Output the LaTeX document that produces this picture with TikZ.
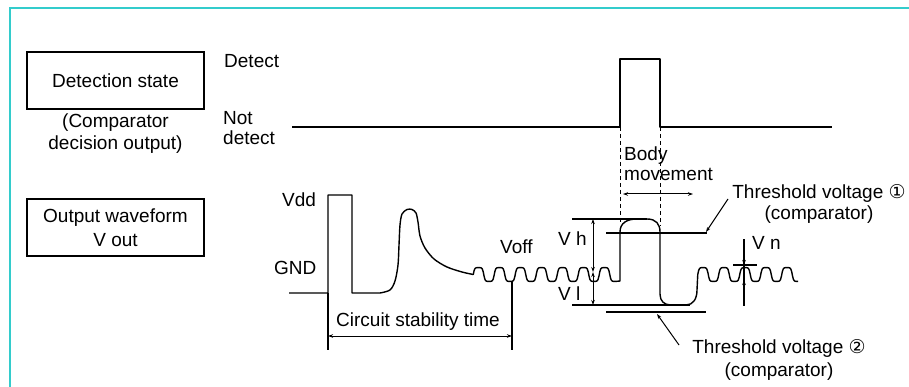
\documentclass[tikz,border=0pt]{standalone}
\usepackage{fontspec}
\setmainfont{Liberation Sans}
\newfontfamily\djv{DejaVu Sans}
\usetikzlibrary{arrows.meta}
\definecolor{framecyan}{RGB}{51,204,204}
\begin{document}
\begin{tikzpicture}[x=1pt,y=-1pt,
  lab/.style={inner sep=0pt, font=\fontsize{19}{21}\selectfont},
  box/.style={draw, line width=1.3pt, minimum width=177pt, minimum height=57pt, inner sep=0pt, align=center, font=\fontsize{19}{24}\selectfont},
  sig/.style={line width=1.4pt, line join=round},
  ln/.style={line width=1.3pt},
  dim/.style={line width=1pt, {Stealth[length=5pt,width=3.5pt]}-{Stealth[length=5pt,width=3.5pt]}},
  tip/.style={line width=1pt, -{Stealth[length=5pt,width=3.5pt]}},
  guide/.style={line width=1pt, dash pattern=on 4pt off 3pt},
]
\fill[white] (0,0) rectangle (909,387);
\useasboundingbox (0,0) rectangle (909,387);
\draw[line width=2.6pt, framecyan] (10,392) -- (10,8) -- (914,8);

% boxes and left texts
\node[box] (ds) at (115.5,80.5) {Detection state};
\node[lab, align=center, font=\fontsize{19}{22}\selectfont] (cdo) at (115.5,134) {(Comparator\\decision output)};
\node[box] (ow) at (115.5,227.5) {Output waveform\\V out};

% level labels
\node[lab, anchor=west] (det) at (224,61) {Detect};
\node[lab, anchor=west, align=left, font=\fontsize{19}{20}\selectfont] (nd) at (223,128.5) {Not\\detect};
\node[lab, anchor=west] (vdd) at (282,200) {Vdd};
\node[lab, anchor=west] (gnd) at (274,268) {GND};
\node[lab, anchor=west] (voff) at (500,247) {Voff};
\node[lab] (cst) at (418,322) {Circuit stability time};
\node[lab, anchor=west, align=left, font=\fontsize{19}{20}\selectfont] (bm) at (624,164) {Body\\movement};
\node[lab, anchor=west] (vh) at (558,239) {V h};
\node[lab, anchor=west] (vl) at (558,294) {V l};
\node[lab, anchor=west] (vn) at (752,243) {V n};
\node[lab, align=center, font=\fontsize{19}{21}\selectfont] (th1) at (819,204) {Threshold voltage {\djv ①}\\(comparator)};
\node[lab, align=center, font=\fontsize{19}{23}\selectfont] (th2) at (779,360) {Threshold voltage {\djv ②}\\(comparator)};

% detection state signal
\draw[sig] (292,127) -- (620,127) -- (620,59) -- (660,59) -- (660,127) -- (832,127);
\draw[guide] (620,127) -- (620,222);
\draw[guide] (660,127) -- (660,226);
\coordinate (bmA) at (623,194);
\coordinate (bmB) at (693,194);
\draw[dim] (bmA) -- (bmB);

% output waveform
\draw[sig] (289,293) -- (328,293) -- (328,195) -- (352,195) -- (352,293) -- (380,293)
  -- plot[smooth, tension=0.5] coordinates {(380,293) (390,290) (395,281) (398,265) (399,245) (400,225) (402,214) (407,209.5) (412,209.5) (416,213) (418,222) (420,236) (425,248) (434,259) (447,267) (462,272) (473.25,274.5)}
  -- plot[domain=473.25:617, samples=160] (\x, {274.5-7*tanh(2.5*sin((\x-473.25)*17.142857))})
  -- (620,281) -- (620,232) .. controls (620,223) and (627,219) .. (637,219) -- (647,219)
  .. controls (656,219) and (660,224) .. (660,232) -- (660,294)
  .. controls (660,301) and (664,305) .. (671,305) -- (686,305)
  .. controls (693,305) and (697,299) .. (697,290) -- (697.75,274.5)
  -- plot[domain=697.75:798, samples=110] (\x, {274.5-7*tanh(2.5*sin((\x-697.75)*17.142857))});

% circuit stability time
\coordinate (csA) at (328,293);
\coordinate (csA2) at (328,350);
\coordinate (csB) at (512,281);
\coordinate (csB2) at (512,350);
\draw[ln] (csA) -- (csA2);
\draw[ln] (csB) -- (csB2);
\draw[dim] (328,336) -- (512,336);

% thresholds and levels
\draw[ln] (572,219) -- (647,219);
\draw[ln] (606,233) -- (707,233);
\draw[ln] (572,305) -- (690,305);
\draw[ln] (606,312) -- (706,312);
\draw[dim] (593,219) -- (593,272);
\draw[dim] (593,272) -- (593,305);

% Vn
\draw[ln] (744,239) -- (744,306);
\draw[tip] (744,252) -- (744,265);
\draw[tip] (744,294) -- (744,280);
\draw[ln] (733,265) -- (757,265);

% leaders
\coordinate (t1a) at (728,199);
\coordinate (t1b) at (706,232);
\coordinate (t2a) at (679,345);
\coordinate (t2b) at (657,314);
\draw[tip] (t1a) -- (t1b);
\draw[tip] (t2a) -- (t2b);
\end{tikzpicture}
\end{document}
